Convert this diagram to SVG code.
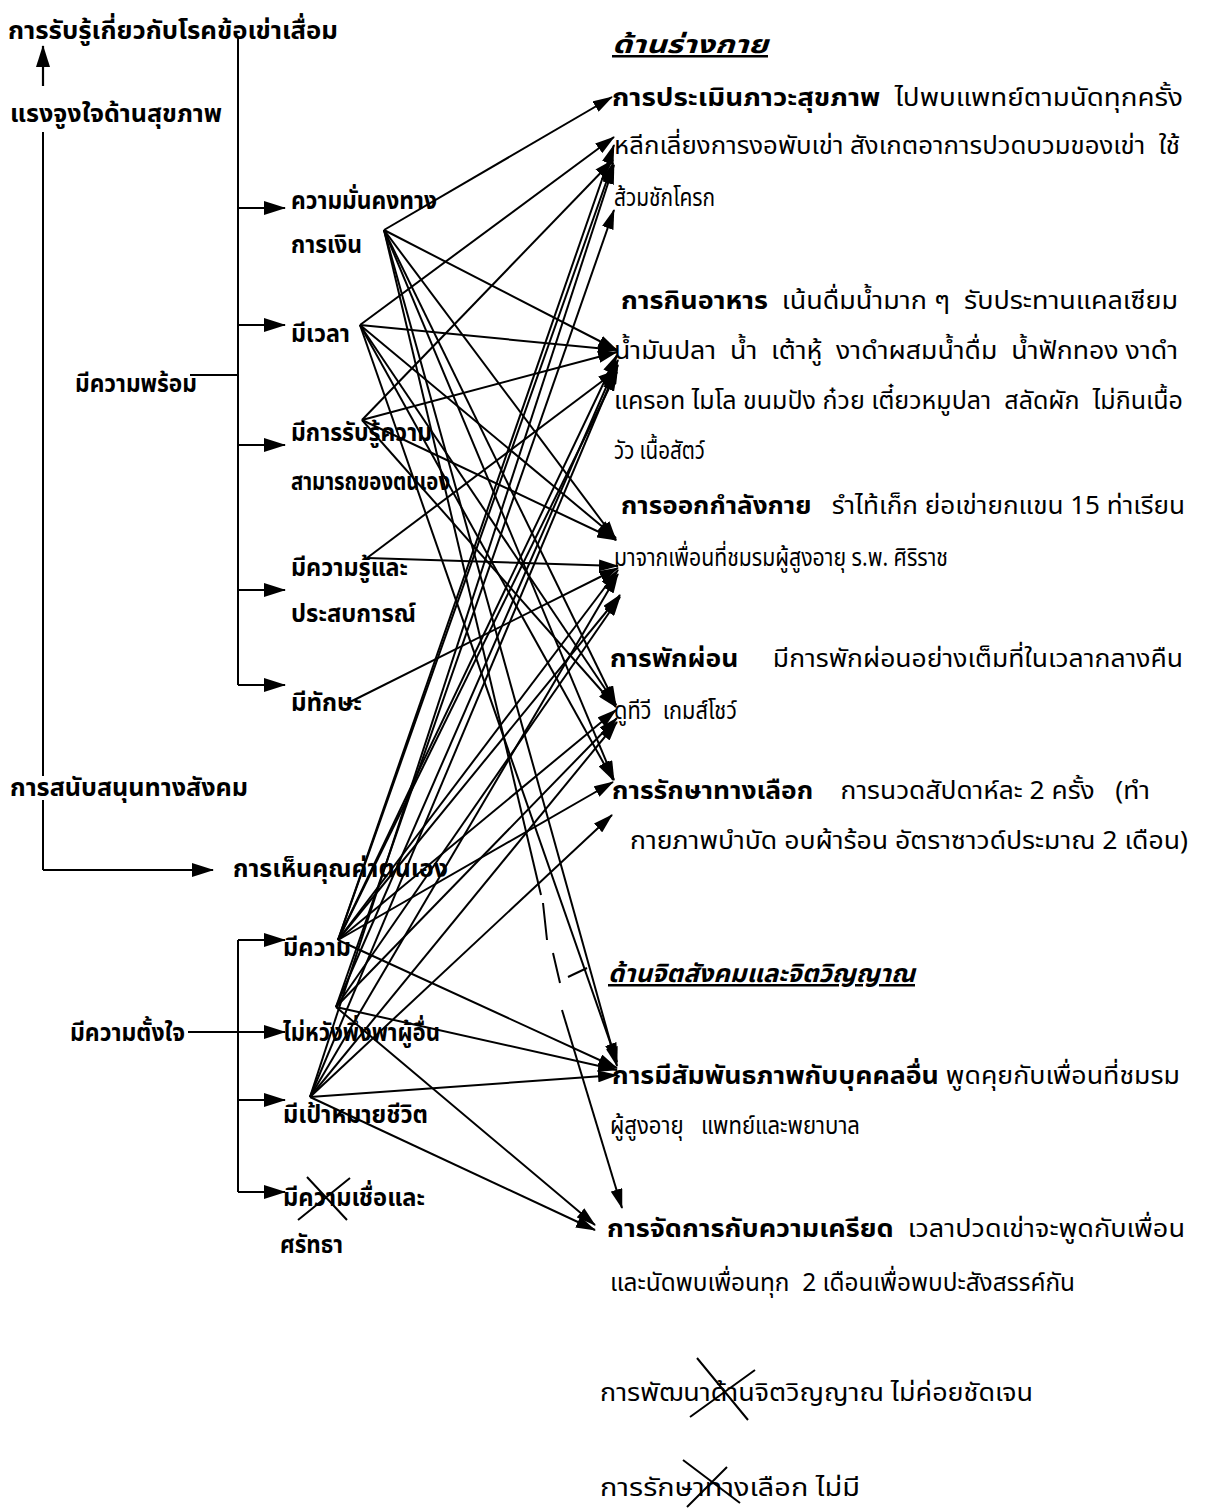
<svg xmlns="http://www.w3.org/2000/svg" width="1209" height="1508" viewBox="0 0 1209 1508">
<style>
text{font-family:"Noto Sans Thai","Noto Sans","DejaVu Sans","Liberation Sans",sans-serif;font-size:25px;fill:#000}
.b{font-weight:bold}
.h{font-weight:bold;font-style:italic;text-decoration:underline}
.ln{stroke:#000;stroke-width:2;fill:none}
.c{stroke:#000;stroke-width:2;fill:none;marker-end:url(#ah)}
.br{stroke:#000;stroke-width:2.2;fill:none;marker-end:url(#ab)}
</style>
<defs>
<marker id="ah" viewBox="0 0 20 12" refX="19" refY="6" markerWidth="20" markerHeight="12" markerUnits="userSpaceOnUse" orient="auto"><path d="M0,0 L20,6 L0,12 Z" fill="#000"/></marker>
<marker id="ab" viewBox="0 0 22 14" refX="21" refY="7" markerWidth="22" markerHeight="14" markerUnits="userSpaceOnUse" orient="auto"><path d="M0,0 L22,7 L0,14 Z" fill="#000"/></marker>
</defs>
<rect width="1209" height="1508" fill="#fff"/>

<g id="tree">
<path class="br" d="M43,86 L43,46"/>
<path class="ln" d="M43,132 L43,776"/>
<path class="ln" d="M43,800 L43,870"/>
<path class="br" d="M43,870 L213,870"/>
<path class="ln" d="M238,38 L238,685"/>
<path class="br" d="M238,208 L285,208"/>
<path class="br" d="M238,325 L285,325"/>
<path class="br" d="M238,445 L285,445"/>
<path class="br" d="M238,590 L285,590"/>
<path class="br" d="M238,685 L285,685"/>
<path class="ln" d="M190,375 L238,375"/>
<path class="ln" d="M238,940 L238,1192"/>
<path class="br" d="M238,940 L285,940"/>
<path class="br" d="M188,1032 L285,1032"/>
<path class="br" d="M238,1100 L285,1100"/>
<path class="br" d="M238,1192 L285,1192"/>
</g>

<g id="n-perception"><text x="8" y="39" class="b" textLength="330" lengthAdjust="spacingAndGlyphs">การรับรู้เกี่ยวกับโรคข้อเข่าเสื่อม</text></g>
<g id="n-motivation"><text x="10" y="122" class="b" textLength="212" lengthAdjust="spacingAndGlyphs">แรงจูงใจด้านสุขภาพ</text></g>
<g id="n-ready"><text x="75" y="392" class="b" textLength="122" lengthAdjust="spacingAndGlyphs">มีความพร้อม</text></g>
<g id="n-finance"><text x="291" y="209" class="b" textLength="146" lengthAdjust="spacingAndGlyphs">ความมั่นคงทาง</text><text x="291" y="253" class="b" textLength="71" lengthAdjust="spacingAndGlyphs">การเงิน</text></g>
<g id="n-time"><text x="291" y="342" class="b" textLength="59" lengthAdjust="spacingAndGlyphs">มีเวลา</text></g>
<g id="n-efficacy"><text x="291" y="441" class="b" textLength="141" lengthAdjust="spacingAndGlyphs">มีการรับรู้ความ</text><text x="291" y="490" class="b" textLength="159" lengthAdjust="spacingAndGlyphs">สามารถของตนเอง</text></g>
<g id="n-knowledge"><text x="291" y="576" class="b" textLength="117" lengthAdjust="spacingAndGlyphs">มีความรู้และ</text><text x="291" y="622" class="b" textLength="125" lengthAdjust="spacingAndGlyphs">ประสบการณ์</text></g>
<g id="n-skill"><text x="291" y="711" class="b" textLength="71" lengthAdjust="spacingAndGlyphs">มีทักษะ</text></g>
<g id="n-support"><text x="10" y="796" class="b" textLength="238" lengthAdjust="spacingAndGlyphs">การสนับสนุนทางสังคม</text></g>
<g id="n-esteem"><text x="233" y="877" class="b" textLength="215" lengthAdjust="spacingAndGlyphs">การเห็นคุณค่าตนเอง</text></g>
<g id="n-pride"><text x="283" y="956" class="b" textLength="68" lengthAdjust="spacingAndGlyphs">มีความ</text></g>
<g id="n-intent"><text x="70" y="1041" class="b" textLength="115" lengthAdjust="spacingAndGlyphs">มีความตั้งใจ</text></g>
<g id="n-selfreliant"><text x="283" y="1041" class="b" textLength="157" lengthAdjust="spacingAndGlyphs">ไม่หวังพึ่งพาผู้อื่น</text></g>
<g id="n-goal"><text x="283" y="1123" class="b" textLength="145" lengthAdjust="spacingAndGlyphs">มีเป้าหมายชีวิต</text></g>
<g id="n-faith"><text x="283" y="1206" class="b" textLength="142" lengthAdjust="spacingAndGlyphs">มีความเชื่อและ</text><text x="280" y="1253" class="b" textLength="63" lengthAdjust="spacingAndGlyphs">ศรัทธา</text>
<path class="ln" d="M298,1220 L350,1178 M307,1177 L347,1220"/></g>

<g id="h-physical"><text x="612" y="53" class="h" textLength="156" lengthAdjust="spacingAndGlyphs">ด้านร่างกาย</text></g>
<g id="t-assess"><text x="612" y="106" textLength="571" lengthAdjust="spacingAndGlyphs"><tspan class="b">การประเมินภาวะสุขภาพ</tspan>&#160;&#160;ไปพบแพทย์ตามนัดทุกครั้ง</text>
<text x="614" y="154" textLength="566" lengthAdjust="spacingAndGlyphs">หลีกเลี่ยงการงอพับเข่า สังเกตอาการปวดบวมของเข่า&#160;&#160;ใช้</text>
<text x="614" y="206" textLength="101" lengthAdjust="spacingAndGlyphs">ส้วมชักโครก</text></g>
<g id="t-food"><text x="621" y="309" textLength="557" lengthAdjust="spacingAndGlyphs"><tspan class="b">การกินอาหาร</tspan>&#160;&#160;เน้นดื่มน้ำมาก ๆ&#160;&#160;รับประทานแคลเซียม</text>
<text x="614" y="359" textLength="564" lengthAdjust="spacingAndGlyphs">น้ำมันปลา&#160;&#160;น้ำ&#160;&#160;เต้าหู้&#160;&#160;งาดำผสมน้ำดื่ม&#160;&#160;น้ำฟักทอง งาดำ</text>
<text x="614" y="409" textLength="569" lengthAdjust="spacingAndGlyphs">แครอท ไมโล ขนมปัง ก๋วย เตี๋ยวหมูปลา&#160;&#160;สลัดผัก&#160;&#160;ไม่กินเนื้อ</text>
<text x="614" y="459" textLength="91" lengthAdjust="spacingAndGlyphs">วัว เนื้อสัตว์</text></g>
<g id="t-exercise"><text x="621" y="514" textLength="564" lengthAdjust="spacingAndGlyphs"><tspan class="b">การออกกำลังกาย</tspan>&#160;&#160;&#160;รำไท้เก็ก ย่อเข่ายกแขน 15 ท่าเรียน</text>
<text x="614" y="566" textLength="334" lengthAdjust="spacingAndGlyphs">มาจากเพื่อนที่ชมรมผู้สูงอายุ ร.พ. ศิริราช</text></g>
<g id="t-rest"><text x="610" y="667" textLength="573" lengthAdjust="spacingAndGlyphs"><tspan class="b">การพักผ่อน</tspan>&#160;&#160;&#160;&#160;&#160;มีการพักผ่อนอย่างเต็มที่ในเวลากลางคืน</text>
<text x="614" y="719" textLength="123" lengthAdjust="spacingAndGlyphs">ดูทีวี&#160;&#160;เกมส์โชว์</text></g>
<g id="t-alt"><text x="612" y="799" textLength="538" lengthAdjust="spacingAndGlyphs"><tspan class="b">การรักษาทางเลือก</tspan>&#160;&#160;&#160;&#160;การนวดสัปดาห์ละ 2 ครั้ง&#160;&#160;&#160;(ทำ</text>
<text x="630" y="849" textLength="558" lengthAdjust="spacingAndGlyphs">กายภาพบำบัด อบผ้าร้อน อัตราซาวด์ประมาณ 2 เดือน)</text></g>
<g id="h-psycho"><text x="608" y="982" class="h" textLength="307" lengthAdjust="spacingAndGlyphs">ด้านจิตสังคมและจิตวิญญาณ</text></g>
<g id="t-relation"><text x="612" y="1084" textLength="568" lengthAdjust="spacingAndGlyphs"><tspan class="b">การมีสัมพันธภาพกับบุคคลอื่น</tspan> พูดคุยกับเพื่อนที่ชมรม</text>
<text x="610" y="1134" textLength="250" lengthAdjust="spacingAndGlyphs">ผู้สูงอายุ&#160;&#160;&#160;แพทย์และพยาบาล</text></g>
<g id="t-stress"><text x="607" y="1237" textLength="578" lengthAdjust="spacingAndGlyphs"><tspan class="b">การจัดการกับความเครียด</tspan>&#160;&#160;เวลาปวดเข่าจะพูดกับเพื่อน</text>
<text x="610" y="1291" textLength="465" lengthAdjust="spacingAndGlyphs">และนัดพบเพื่อนทุก&#160;&#160;2 เดือนเพื่อพบปะสังสรรค์กัน</text></g>
<g id="t-spirit"><text x="600" y="1401" textLength="433" lengthAdjust="spacingAndGlyphs">การพัฒนาด้านจิตวิญญาณ ไม่ค่อยชัดเจน</text>
<path class="ln" d="M697,1358 L748,1420 M690,1417 L755,1370"/></g>
<g id="t-noalt"><text x="600" y="1496" textLength="260" lengthAdjust="spacingAndGlyphs">การรักษาทางเลือก ไม่มี</text>
<path class="ln" d="M683,1460 L740,1503 M687,1507 L727,1467"/></g>

<g id="connectors">
<path class="c" d="M384,230 L612,97"/>
<path class="c" d="M384,230 L617,350"/>
<path class="c" d="M384,230 L616,540"/>
<path class="c" d="M384,230 L616,705"/>
<path class="c" d="M384,230 L614,780"/>
<path class="c" d="M384,230 L617,1066"/>
<path class="ln" d="M384,230 L541,895"/>
<path class="ln" d="M543,903 L547,940 M553,953 L560,983"/>
<path class="c" d="M562,1010 L622,1208"/>
<path class="ln" d="M568,977 L587,968"/>
<path class="c" d="M360,325 L614,137"/>
<path class="c" d="M360,325 L617,350"/>
<path class="c" d="M360,325 L616,538"/>
<path class="c" d="M360,325 L616,705"/>
<path class="c" d="M360,325 L613,780"/>
<path class="c" d="M360,325 L617,1062"/>
<path class="c" d="M362,420 L613,160"/>
<path class="c" d="M362,420 L617,352"/>
<path class="c" d="M362,420 L616,540"/>
<path class="c" d="M362,420 L616,707"/>
<path class="c" d="M367,558 L617,370"/>
<path class="c" d="M367,558 L618,566"/>
<path class="c" d="M350,702 L618,568"/>
<path class="c" d="M338,940 L614,145"/>
<path class="c" d="M338,940 L613,163"/>
<path class="c" d="M338,940 L617,355"/>
<path class="c" d="M338,940 L617,372"/>
<path class="c" d="M338,940 L618,570"/>
<path class="c" d="M338,940 L620,595"/>
<path class="c" d="M338,940 L616,710"/>
<path class="c" d="M338,940 L613,782"/>
<path class="c" d="M338,940 L617,1068"/>
<path class="c" d="M336,1007 L614,210"/>
<path class="c" d="M336,1007 L618,360"/>
<path class="c" d="M336,1007 L620,597"/>
<path class="c" d="M336,1007 L617,718"/>
<path class="c" d="M336,1007 L617,1070"/>
<path class="c" d="M336,1007 L595,1225"/>
<path class="c" d="M310,1097 L614,165"/>
<path class="c" d="M310,1097 L618,365"/>
<path class="c" d="M310,1097 L618,574"/>
<path class="c" d="M310,1097 L617,722"/>
<path class="c" d="M310,1097 L612,815"/>
<path class="c" d="M310,1097 L617,1075"/>
<path class="c" d="M310,1097 L595,1230"/>
</g>
</svg>
